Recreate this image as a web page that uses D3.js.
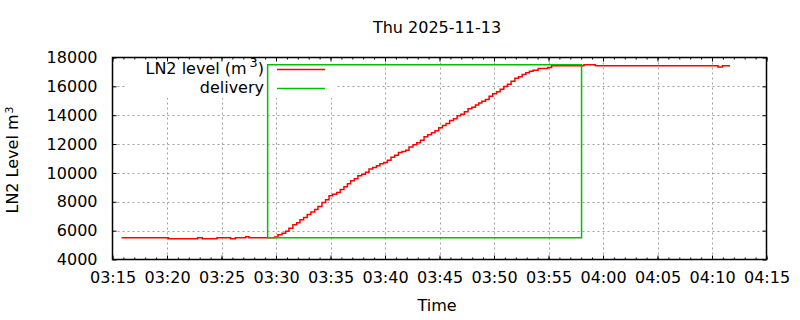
<!DOCTYPE html>
<html>
<head>
<meta charset="utf-8">
<script src="https://cdn.jsdelivr.net/npm/d3@7"></script>
<style>
  body { margin: 0; background: #fff; }
  text { font-family: "DejaVu Sans", sans-serif; fill: #000; }
</style>
</head>
<body>
<svg id="chart" width="800" height="320"></svg>
<script>
'use strict';

// LN2 level readings (time, m3)
const levelTimes = [
  "03:15:50","03:20:07","03:22:48","03:23:14","03:24:35","03:25:50","03:26:16","03:27:13","03:27:31","03:29:52",
  "03:30:11","03:30:33","03:30:53","03:31:11","03:31:33","03:31:54","03:32:12","03:32:32","03:32:52","03:33:12",
  "03:33:33","03:33:51","03:34:13","03:34:33","03:34:52","03:35:12","03:35:34","03:35:54","03:36:14","03:36:33",
  "03:36:51","03:37:11","03:37:31","03:37:52","03:38:12","03:38:32","03:38:52","03:39:13","03:39:32","03:39:53",
  "03:40:13","03:40:33","03:40:53","03:41:14","03:41:34","03:41:54","03:42:12","03:42:34","03:42:55","03:43:15",
  "03:43:35","03:43:55","03:44:16","03:44:35","03:44:56","03:45:16","03:45:36","03:45:56","03:46:17","03:46:37",
  "03:46:57","03:47:17","03:47:37","03:47:58","03:48:18","03:48:36","03:48:53","03:49:13","03:49:33","03:49:53",
  "03:50:14","03:50:34","03:50:54","03:51:14","03:51:34","03:51:55","03:52:15","03:52:35","03:52:55","03:53:15",
  "03:53:35","03:54:03","03:54:56","03:55:17","03:58:15","03:59:18","04:10:33","04:10:58","04:11:39"
];
const levelValues = [
  5500, 5430, 5500, 5430, 5500, 5430, 5500, 5570, 5500, 5560,
  5710, 5820, 5960, 6170, 6400, 6540, 6750, 6910, 7120, 7300,
  7470, 7670, 7950, 8140, 8410, 8520, 8640, 8850, 9040, 9250,
  9450, 9590, 9800, 9910, 10050, 10280, 10380, 10490, 10630, 10720,
  10880, 11090, 11230, 11410, 11480, 11580, 11800, 11950, 12090, 12270,
  12500, 12640, 12780, 12920, 13130, 13290, 13420, 13630, 13750, 13960,
  14070, 14240, 14440, 14560, 14700, 14840, 14970, 15090, 15320, 15480,
  15620, 15800, 15990, 16150, 16360, 16560, 16660, 16820, 16940, 17050,
  17120, 17240, 17310, 17420, 17490, 17420, 17350, 17420, 17420
];

// delivery window outline
const deliveryTimes = ["03:29:14", "03:29:14", "03:58:02", "03:58:02", "03:29:14"];
const deliveryValues = [5500, 17500, 17500, 5500, 5500];

const xDomain = ["03:15:00", "04:15:00"];
const yTicks = [4000, 6000, 8000, 10000, 12000, 14000, 16000, 18000];

const title = "Thu 2025-11-13";

const pL = 112.5, pR = 766.5, pT = 57.5, pB = 259.5;

const parse = d3.timeParse("%H:%M:%S");
const level = levelTimes.map((t, i) => ({t: parse(t), v: levelValues[i]}));
const delivery = deliveryTimes.map((t, i) => ({t: parse(t), v: deliveryValues[i]}));

const x = d3.scaleTime().domain(xDomain.map(parse)).range([pL, pR]);
const y = d3.scaleLinear().domain([4000, 18000]).range([pB, pT]);

const svg = d3.select("#chart");
const fs = 16;

// grid
const grid = svg.append("g").attr("stroke", "#a0a0a0").attr("stroke-width", 1).attr("stroke-dasharray", "2,3");
const xMajor = x.ticks(d3.timeMinute.every(5));
grid.selectAll("line.gx")
  .data(xMajor.slice(1, -1))
  .enter().append("line")
  .attr("x1", d => Math.round(x(d)) + 0.5).attr("x2", d => Math.round(x(d)) + 0.5)
  .attr("y1", pT).attr("y2", pB);
grid.selectAll("line.gy")
  .data(yTicks.slice(1, -1))
  .enter().append("line")
  .attr("x1", pL).attr("x2", pR)
  .attr("y1", d => Math.round(y(d)) + 0.5).attr("y2", d => Math.round(y(d)) + 0.5);

// opaque key box
svg.append("rect").attr("x", 125).attr("y", pT + 0.5).attr("width", 210).attr("height", 40).attr("fill", "#fff");

// axes (ticks point inward, mirrored)
const styleAxis = g => {
  g.select(".domain").remove();
  g.selectAll("text").attr("font-size", fs).attr("font-family", "DejaVu Sans");
};
svg.append("g").attr("transform", `translate(0,${pB})`)
  .call(d3.axisBottom(x).ticks(d3.timeMinute.every(5)).tickFormat(d3.timeFormat("%H:%M")).tickSize(-4).tickPadding(12))
  .call(styleAxis);
svg.append("g").attr("transform", `translate(0,${pB})`)
  .call(d3.axisBottom(x).ticks(d3.timeMinute.every(1)).tickFormat("").tickSize(-2))
  .call(styleAxis);
svg.append("g").attr("transform", `translate(0,${pT})`)
  .call(d3.axisTop(x).ticks(d3.timeMinute.every(5)).tickFormat("").tickSize(-4))
  .call(styleAxis);
svg.append("g").attr("transform", `translate(0,${pT})`)
  .call(d3.axisTop(x).ticks(d3.timeMinute.every(1)).tickFormat("").tickSize(-2))
  .call(styleAxis);
svg.append("g").attr("transform", `translate(${pL},0)`)
  .call(d3.axisLeft(y).tickValues(yTicks).tickFormat(d3.format("d")).tickSize(-4).tickPadding(15))
  .call(styleAxis);
svg.append("g").attr("transform", `translate(${pR},0)`)
  .call(d3.axisRight(y).tickValues(yTicks).tickFormat("").tickSize(-4))
  .call(styleAxis);

// border
svg.append("rect").attr("x", pL).attr("y", pT).attr("width", pR - pL).attr("height", pB - pT)
  .attr("fill", "none").attr("stroke", "#000").attr("stroke-width", 1.5);

// data
svg.append("path").datum(level)
  .attr("d", d3.line().x(d => x(d.t)).y(d => y(d.v)).curve(d3.curveStepAfter))
  .attr("fill", "none").attr("stroke", "#ff0000").attr("stroke-width", 1.5);
svg.append("path").datum(delivery)
  .attr("d", d3.line().x(d => x(d.t)).y(d => y(d.v)))
  .attr("fill", "none").attr("stroke", "#00c000").attr("stroke-width", 1.5);

// key
const key = svg.append("g");
const t1 = key.append("text").attr("x", 264).attr("y", 74).attr("text-anchor", "end").attr("font-size", fs);
t1.append("tspan").text("LN2 level (m");
t1.append("tspan").attr("font-size", fs * 0.8).attr("dy", -7).attr("dx", 3).text("3");
t1.append("tspan").attr("dy", 7).text(")");
key.append("line").attr("x1", 277).attr("x2", 325).attr("y1", 69.5).attr("y2", 69.5).attr("stroke", "#ff0000").attr("stroke-width", 1.5);
key.append("text").attr("x", 264).attr("y", 93).attr("text-anchor", "end").attr("font-size", fs).text("delivery");
key.append("line").attr("x1", 277).attr("x2", 325).attr("y1", 88.5).attr("y2", 88.5).attr("stroke", "#00c000").attr("stroke-width", 1.5);

// titles
svg.append("text").attr("x", 437).attr("y", 33).attr("text-anchor", "middle").attr("font-size", fs).text(title);
svg.append("text").attr("x", 437).attr("y", 311).attr("text-anchor", "middle").attr("font-size", fs).text("Time");
const yl = svg.append("text").attr("transform", "translate(18,160) rotate(-90)").attr("text-anchor", "middle").attr("font-size", fs);
yl.append("tspan").text("LN2 Level m");
yl.append("tspan").attr("font-size", 11).attr("dy", -5).attr("dx", 1).text("3");
</script>
</body>
</html>
